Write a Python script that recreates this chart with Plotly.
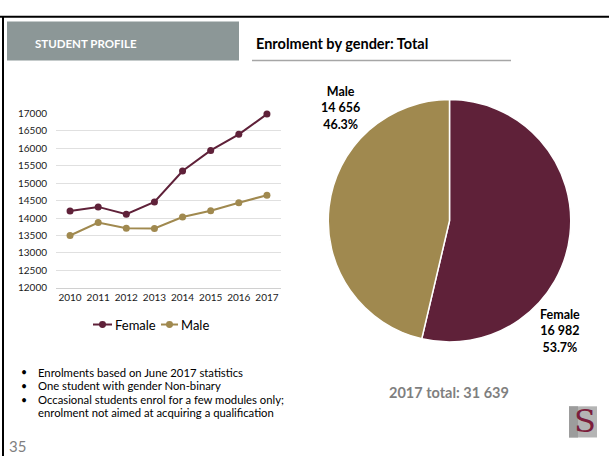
import plotly.graph_objects as go

W, H = 609, 461

years = ["2010", "2011", "2012", "2013", "2014", "2015", "2016", "2017"]
female = [14200, 14320, 14110, 14460, 15350, 15940, 16400, 16982]
male = [13500, 13870, 13710, 13700, 14030, 14210, 14440, 14656]

pie_labels = ["Female", "Male"]
pie_values = [16982, 14656]
pie_text = ["Female<br>16 982<br>53.7%", "Male<br>14 656<br>46.3%"]

y_ticks = [12000, 12500, 13000, 13500, 14000, 14500, 15000, 15500, 16000, 16500, 17000]

bullets = [
    "Enrolments based on June 2017 statistics",
    "One student with gender Non-binary",
    "Occasional students enrol for a few modules only;",
    "enrolment not aimed at acquiring a qualification",
]

C_F = "#5f2139"
C_M = "#a0894f"
FONT = "Lato"


def px(x):
    return x / W


def py(y):
    return 1 - y / H


fig = go.Figure()

fig.add_trace(go.Scatter(x=years, y=female, mode="lines+markers", name="Female",
                         line=dict(color=C_F, width=2), marker=dict(color=C_F, size=7),
                         cliponaxis=False, showlegend=False))
fig.add_trace(go.Scatter(x=years, y=male, mode="lines+markers", name="Male",
                         line=dict(color=C_M, width=2), marker=dict(color=C_M, size=7),
                         cliponaxis=False, showlegend=False))

fig.add_trace(go.Pie(labels=pie_labels, values=pie_values, sort=False, direction="clockwise",
                     rotation=0, marker=dict(colors=[C_F, C_M], line=dict(color="white", width=1.5)),
                     textinfo="none", hoverinfo="label+value+percent", showlegend=False,
                     domain=dict(x=[px(325), px(574)], y=[py(344), py(95)])))

fig.update_layout(
    width=W, height=H, margin=dict(l=0, r=0, t=0, b=0),
    paper_bgcolor="white", plot_bgcolor="white",
    font=dict(family=FONT, color="#000000"),
    xaxis=dict(domain=[px(56), px(281)], range=[-0.5, 7.5], type="category",
               showgrid=False, showline=True, linecolor="#d0d0d0", linewidth=1,
               ticks="", tickfont=dict(size=10, color="#1a1a1a"), fixedrange=True),
    yaxis=dict(domain=[py(288.3), py(109.3)], range=[12000, 17000], tickvals=y_ticks,
               tickformat="d", ticklabelstandoff=8,
               showgrid=True, gridcolor="#e0e0e0", gridwidth=1, zeroline=False,
               showline=False, ticks="", tickfont=dict(size=10, color="#1a1a1a"),
               fixedrange=True),
)

shapes = []
# slide border lines
shapes.append(dict(type="line", xref="paper", yref="paper", x0=0, x1=1, y0=py(10), y1=py(10),
                   line=dict(color="#000000", width=2)))
shapes.append(dict(type="line", xref="paper", yref="paper", x0=px(3), x1=px(3), y0=py(10), y1=0,
                   line=dict(color="#000000", width=2)))
# header box
shapes.append(dict(type="rect", xref="paper", yref="paper", x0=px(7), x1=px(239), y0=py(55), y1=py(15),
                   fillcolor="#8c9797", line=dict(width=0)))
# title underline
shapes.append(dict(type="line", xref="paper", yref="paper", x0=px(252), x1=px(511), y0=py(55), y1=py(55),
                   line=dict(color="#a6a6a6", width=1.5)))
# custom legend
for (x0, x1, xc, col) in [(93, 112, 102.5, C_F), (161, 178, 169.5, C_M)]:
    shapes.append(dict(type="line", xref="paper", yref="paper", x0=px(x0), x1=px(x1), y0=py(326), y1=py(326),
                       line=dict(color=col, width=2)))
    shapes.append(dict(type="circle", xref="paper", yref="paper", x0=px(xc - 3.5), x1=px(xc + 3.5),
                       y0=py(329.5), y1=py(322.5), fillcolor=col, line=dict(width=0)))
# logo
shapes.append(dict(type="rect", xref="paper", yref="paper", x0=px(569), x1=px(597), y0=py(442), y1=py(410),
                   fillcolor="#b4b4b4", line=dict(width=0)))
shapes.append(dict(type="rect", xref="paper", yref="paper", x0=px(569), x1=px(578), y0=py(442), y1=py(410),
                   fillcolor="#9c9c9c", line=dict(width=0)))
fig.update_layout(shapes=shapes)

ann = []
ann.append(dict(x=px(33), y=py(37), text="<b>STUDENT PROFILE</b>", xanchor="left", yanchor="middle",
                font=dict(size=11.5, color="#ffffff", family=FONT)))
ann.append(dict(x=px(254), y=py(37), text="<b>Enrolment by gender: Total</b>", xanchor="left",
                yanchor="middle", font=dict(size=14.5, color="#000000", family=FONT)))
ann.append(dict(x=px(113), y=py(326), text="Female", xanchor="left", yanchor="middle",
                font=dict(size=13, color="#000000", family=FONT)))
ann.append(dict(x=px(179), y=py(326), text="Male", xanchor="left", yanchor="middle",
                font=dict(size=13, color="#000000", family=FONT)))
ann.append(dict(x=px(340), y=py(104), text="<b>" + pie_text[1] + "</b>", xanchor="center", yanchor="middle",
                align="center", font=dict(size=12.5, color="#000000", family=FONT)))
ann.append(dict(x=px(560), y=py(333), text="<b>" + pie_text[0] + "</b>", xanchor="center", yanchor="middle",
                align="center", font=dict(size=12.5, color="#000000", family=FONT)))
ann.append(dict(x=px(449), y=py(396), text="<b>2017 total: 31 639</b>", xanchor="center", yanchor="middle",
                font=dict(size=14.5, color="#7f7f7f", family=FONT)))
# bullets
bullet_y = [375, 389, 403, 416.5]
for i, (t, yy) in enumerate(zip(bullets, bullet_y)):
    if i < 3:
        ann.append(dict(x=px(19), y=py(yy), text="•", xanchor="left", yanchor="middle",
                        font=dict(size=10.5, color="#000000", family=FONT)))
    ann.append(dict(x=px(36), y=py(yy), text=t, xanchor="left", yanchor="middle",
                    font=dict(size=11.3, color="#000000", family=FONT)))
ann.append(dict(x=px(7), y=py(451), text="35", xanchor="left", yanchor="middle",
                font=dict(size=15, color="#7f7f7f", family=FONT)))
ann.append(dict(x=px(585), y=py(425), text="S", xanchor="center", yanchor="middle",
                font=dict(size=32, color="#7b1e3c", family="DejaVu Serif")))
for a in ann:
    a.update(xref="paper", yref="paper", showarrow=False)
fig.update_layout(annotations=ann)

fig.write_html("out.html")
